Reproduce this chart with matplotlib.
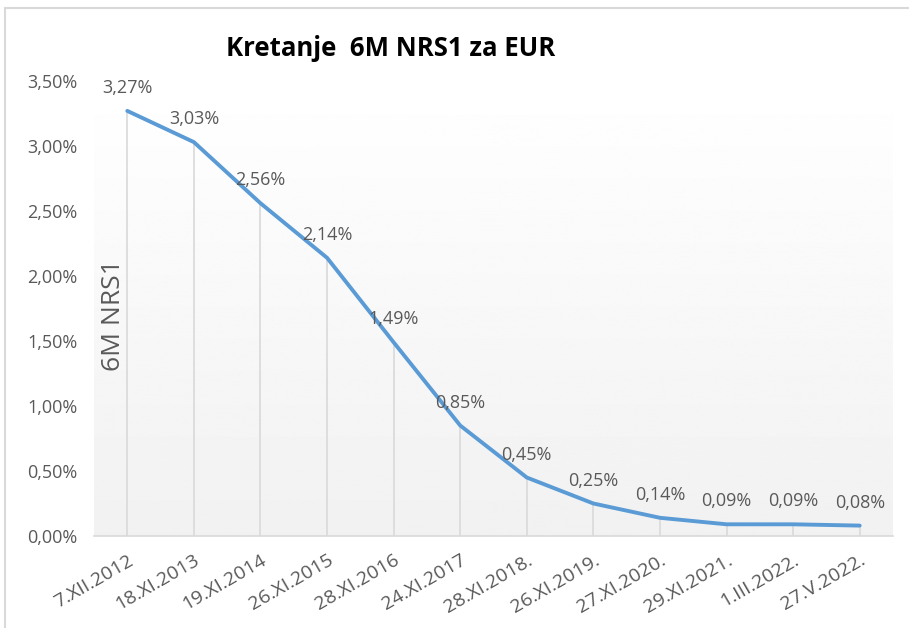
import matplotlib.pyplot as plt
import matplotlib.transforms as mtransforms
import numpy as np
from matplotlib.patches import Rectangle

dates = ["7.XII.2012", "18.XI.2013", "19.XI.2014", "26.XI.2015", "28.XI.2016",
         "24.XI.2017", "28.XI.2018.", "26.XI.2019.", "27.XI.2020.", "29.XI.2021.",
         "1.III.2022.", "27.V.2022."]
nrs1 = [3.27, 3.03, 2.56, 2.14, 1.49, 0.85, 0.45, 0.25, 0.14, 0.09, 0.09, 0.08]
yticks = [0, 0.5, 1.0, 1.5, 2.0, 2.5, 3.0, 3.5]


def pct(v):
    return f"{v:.2f}%".replace(".", ",")


def main():
    plt.rcParams["font.family"] = ["Open Sans", "DejaVu Sans"]
    grey = "#595959"

    fig = plt.figure(figsize=(9.09, 6.28), dpi=100)
    W, H = 909, 628

    # outer chart frame (partly cut off in the original screenshot)
    fig.patches.append(Rectangle((5 / W, -0.1), 1.2, 1 - 8 / H + 0.1,
                                 transform=fig.transFigure, fill=False,
                                 edgecolor="#d9d9d9", lw=1.5))

    ax = fig.add_axes([94 / W, (H - 536) / H, 799 / W, 455 / H])
    x = np.arange(len(nrs1))

    # soft vertical gradient in the plot area
    grad = np.linspace(1.0, 0.945, 256).reshape(-1, 1)
    ax.imshow(grad, cmap="gray", vmin=0, vmax=1, aspect="auto",
              extent=(0, 1, 0, 1), transform=ax.transAxes, zorder=0)

    ax.vlines(x, 0, nrs1, color="#d9d9d9", lw=1.2, zorder=1)
    ax.plot(x, nrs1, color="#5b9bd5", lw=2.8, solid_capstyle="round", zorder=3)
    for xi, v in zip(x, nrs1):
        ax.annotate(pct(v), (xi, v), xytext=(0, 10), textcoords="offset points",
                    ha="center", va="bottom", fontsize=13, color=grey, zorder=4)

    ax.set_xlim(-0.5, len(nrs1) - 0.5)
    ax.set_ylim(0, 3.5)
    ax.set_yticks(yticks)
    ax.set_yticklabels([pct(v) for v in yticks], fontsize=13, color=grey)
    ax.set_xticks(x)
    ax.set_xticklabels(dates, rotation=30, ha="right", va="top",
                       rotation_mode="anchor", fontsize=14, color=grey)
    # nudge the rotated labels a little to the right, like the original
    shift = mtransforms.ScaledTranslation(4 / 100, 0, fig.dpi_scale_trans)
    for lab in ax.get_xticklabels():
        lab.set_transform(lab.get_transform() + shift)
    ax.tick_params(axis="y", length=0, pad=12)
    ax.tick_params(axis="x", length=0, pad=11)
    for s in ["left", "right", "top"]:
        ax.spines[s].set_visible(False)
    ax.spines["bottom"].set_color("#d9d9d9")
    ax.spines["bottom"].set_linewidth(1.2)

    ax.text(0.024, 0.486, "6M NRS1", transform=ax.transAxes, rotation=90,
            ha="center", va="center", fontsize=19, color=grey, zorder=4)

    fig.text(391 / W, 1 - 48 / H, "Kretanje  6M NRS1 za EUR", ha="center",
             va="center", fontsize=18.5, fontweight="bold", color="black")

    plt.savefig("out.png", dpi=100)
    plt.close()


if __name__ == "__main__":
    main()
